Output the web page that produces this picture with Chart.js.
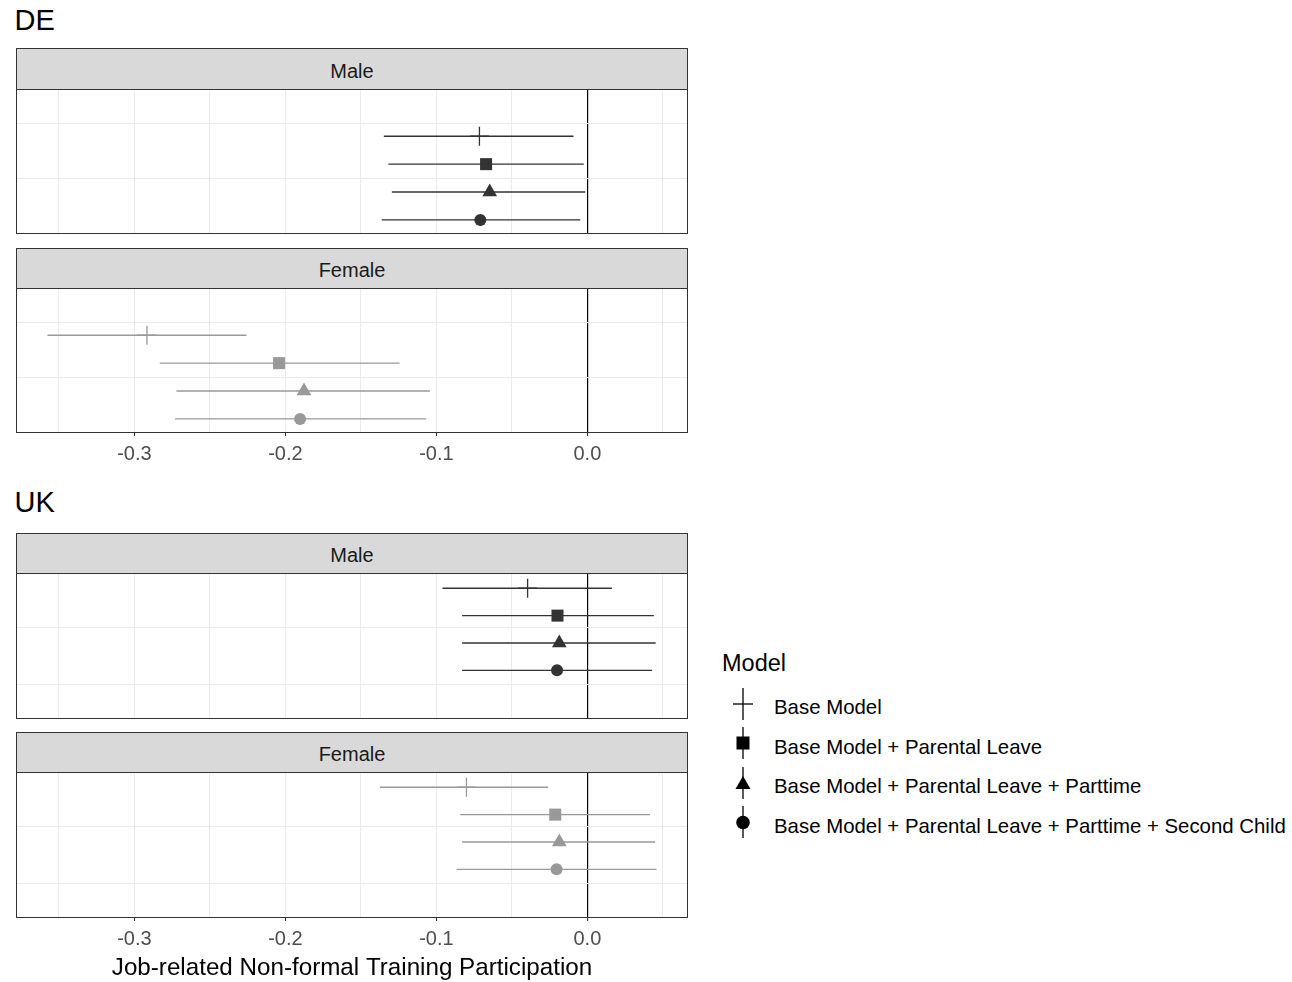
<!DOCTYPE html>
<html>
<head>
<meta charset="utf-8">
<script src="https://cdn.jsdelivr.net/npm/chart.js@4.4.0/dist/chart.umd.min.js"></script>
<style>
html,body{margin:0;padding:0;background:#ffffff;}
body{width:1292px;height:982px;position:relative;overflow:hidden;font-family:"Liberation Sans",Arial,sans-serif;}
.abs{position:absolute;white-space:nowrap;}
.ctitle{font-size:29px;line-height:29px;color:#000;}
.strip{position:absolute;left:16px;width:672px;box-sizing:border-box;background:#D9D9D9;border:1px solid #333333;display:flex;align-items:center;justify-content:center;font-size:20px;line-height:20px;color:#1A1A1A;padding-top:3px;}
.legtext{font-size:20.4px;line-height:20px;color:#000;}
</style>
</head>
<body>
<script>
// ---------- data ----------
const models = [
  'Base Model',
  'Base Model + Parental Leave',
  'Base Model + Parental Leave + Parttime',
  'Base Model + Parental Leave + Parttime + Second Child'
];
const countries = ['DE', 'UK'];
const sexes = ['Male', 'Female'];

const deMaleEst = [-0.0715, -0.0671, -0.0647, -0.0709];
const deMaleLo  = [-0.1348, -0.1318, -0.1295, -0.1362];
const deMaleHi  = [-0.0092, -0.0024, -0.0015, -0.0047];

const deFemaleEst = [-0.2917, -0.2042, -0.1877, -0.1903];
const deFemaleLo  = [-0.3576, -0.2832, -0.2722, -0.2731];
const deFemaleHi  = [-0.2258, -0.1244, -0.1043, -0.1067];

const ukMaleEst = [-0.0396, -0.0198, -0.0186, -0.0201];
const ukMaleLo  = [-0.0960, -0.0830, -0.0830, -0.0830];
const ukMaleHi  = [0.0162, 0.0440, 0.0452, 0.0429];

const ukFemaleEst = [-0.0801, -0.0213, -0.0186, -0.0204];
const ukFemaleLo  = [-0.1374, -0.0842, -0.0830, -0.0866];
const ukFemaleHi  = [-0.0260, 0.0414, 0.0449, 0.0458];

const xTickValues = [-0.3, -0.2, -0.1, 0];
const xTickLabels = ['-0.3', '-0.2', '-0.1', '0.0'];
const xMinorValues = [-0.35, -0.25, -0.15, -0.05, 0.05];
const xAxisTitle = 'Job-related Non-formal Training Participation';
const legendTitle = 'Model';

// ---------- styling / layout ----------
const FONT = '"Liberation Sans", Arial, sans-serif';
const sexColor = { Male: '#333333', Female: '#999999' };
const pointStyles = ['cross', 'rect', 'triangle', 'circle'];
const pointRadii = [9.5, 8.5, 8.5, 6];
const pointBorders = [1.3, 0, 0, 0];

// x range with ggplot-like 5% expansion
const allX = [].concat(deMaleLo, deMaleHi, deFemaleLo, deFemaleHi, ukMaleLo, ukMaleHi, ukFemaleLo, ukFemaleHi);
const xLo = Math.min(...allX), xHi = Math.max(...allX);
const xMin = xLo - 0.05 * (xHi - xLo), xMax = xHi + 0.05 * (xHi - xLo);

const yLayout = {
  DE: { min: -0.66, max: 4.47, grid: [0.53, 2.5] },
  UK: { min: 0.48, max: 5.74, grid: [2.44, 4.51] }
};

const panels = [
  { country: 'DE', sex: 'Male',   est: deMaleEst,   lo: deMaleLo,   hi: deMaleHi,   stripTop: 48,  top: 89,  bottom: 233, ticks: false, title: false },
  { country: 'DE', sex: 'Female', est: deFemaleEst, lo: deFemaleLo, hi: deFemaleHi, stripTop: 248, top: 288, bottom: 432, ticks: true,  title: false },
  { country: 'UK', sex: 'Male',   est: ukMaleEst,   lo: ukMaleLo,   hi: ukMaleHi,   stripTop: 533, top: 573, bottom: 718, ticks: false, title: false },
  { country: 'UK', sex: 'Female', est: ukFemaleEst, lo: ukFemaleLo, hi: ukFemaleHi, stripTop: 732, top: 772, bottom: 917, ticks: true,  title: true }
];

const panelBorder = {
  id: 'panelBorder',
  afterDraw(chart) {
    const a = chart.chartArea, c = chart.ctx;
    c.save();
    c.strokeStyle = '#333333';
    c.lineWidth = 1;
    c.strokeRect(Math.round(a.left) - 0.5, Math.round(a.top) - 0.5, Math.round(a.right - a.left) + 1, Math.round(a.bottom - a.top) + 1);
    c.restore();
  }
};

// country titles
const titleTops = { DE: 5.5, UK: 487.9 };
countries.forEach(cn => {
  const d = document.createElement('div');
  d.className = 'abs ctitle';
  d.style.left = '14.5px';
  d.style.top = titleTops[cn] + 'px';
  d.textContent = cn;
  document.body.appendChild(d);
});

const TICK_SIZE = 20, TICK_LH = 1.0, TICK_PAD = 8, TICK_LEN = 4;
const TITLE_SIZE = 24.2, TITLE_LH = 0.9;

panels.forEach(p => {
  // strip
  const s = document.createElement('div');
  s.className = 'strip';
  s.style.top = p.stripTop + 'px';
  s.style.height = (p.top - p.stripTop + 1) + 'px';
  s.textContent = p.sex;
  document.body.appendChild(s);

  const chartH = p.bottom - p.top - 1;
  let axisH = 0;
  if (p.ticks) axisH += TICK_LEN + TICK_SIZE * TICK_LH + 2 * TICK_PAD;
  if (p.title) axisH += TITLE_SIZE * TITLE_LH;
  const H = Math.ceil(10 + chartH + axisH + 4);
  const pb = H - 10 - chartH - axisH;

  const wrap = document.createElement('div');
  wrap.className = 'abs';
  wrap.style.left = '0px';
  wrap.style.top = (p.top - 9) + 'px';
  wrap.style.width = '700px';
  wrap.style.height = H + 'px';
  const cv = document.createElement('canvas');
  cv.width = 700; cv.height = H;
  cv.style.width = '700px'; cv.style.height = H + 'px';
  wrap.appendChild(cv);
  document.body.appendChild(wrap);

  const color = sexColor[p.sex];
  const yl = yLayout[p.country];
  const datasets = [];
  models.forEach((m, i) => {
    datasets.push({
      label: m + ' CI',
      data: [{ x: p.lo[i], y: i + 1 }, { x: p.hi[i], y: i + 1 }],
      showLine: true,
      borderColor: color,
      borderWidth: 1.3,
      pointRadius: 0,
      pointHoverRadius: 0
    });
  });
  datasets.push({
    label: 'estimates',
    data: p.est.map((v, i) => ({ x: v, y: i + 1 })),
    showLine: false,
    pointStyle: pointStyles,
    pointRadius: pointRadii,
    pointHoverRadius: pointRadii,
    pointBackgroundColor: color,
    pointBorderColor: color,
    pointBorderWidth: pointBorders
  });

  new Chart(cv, {
    type: 'scatter',
    data: { datasets },
    plugins: [panelBorder],
    options: {
      responsive: false,
      animation: false,
      events: [],
      layout: { autoPadding: false, padding: { left: 17, right: 13, top: 10, bottom: pb } },
      plugins: { legend: { display: false }, tooltip: { enabled: false } },
      scales: {
        x: {
          type: 'linear',
          min: xMin, max: xMax,
          afterBuildTicks: sc => { sc.ticks = xMinorValues.concat(xTickValues).sort((a, b) => a - b).map(v => ({ value: v })); },
          grid: {
            display: true,
            drawTicks: p.ticks,
            tickLength: TICK_LEN,
            color: ctx => (ctx.tick && ctx.tick.value === 0) ? '#000000' : '#EBEBEB',
            lineWidth: ctx => (ctx.tick && ctx.tick.value === 0) ? 1.2 : 1,
            tickColor: ctx => (ctx.tick && xTickValues.includes(ctx.tick.value)) ? '#333333' : 'rgba(0,0,0,0)',
            tickWidth: 1.1
          },
          border: { display: false },
          ticks: {
            display: p.ticks,
            autoSkip: false,
            maxRotation: 0, minRotation: 0,
            padding: TICK_PAD,
            color: '#4D4D4D',
            font: { family: FONT, size: TICK_SIZE, lineHeight: TICK_LH },
            callback: v => { const k = xTickValues.indexOf(v); return k >= 0 ? xTickLabels[k] : ''; }
          },
          title: {
            display: p.title,
            text: xAxisTitle,
            color: '#000000',
            font: { family: FONT, size: TITLE_SIZE, lineHeight: TITLE_LH },
            padding: 0
          }
        },
        y: {
          type: 'linear',
          reverse: true,
          min: yl.min, max: yl.max,
          afterBuildTicks: sc => { sc.ticks = yl.grid.map(v => ({ value: v })); },
          grid: { color: '#EBEBEB', lineWidth: 1, drawTicks: false },
          border: { display: false },
          ticks: { display: false }
        }
      }
    }
  });
});

// legend
const lt = document.createElement('div');
lt.className = 'abs';
lt.style.left = '722px';
lt.style.top = '651.7px';
lt.style.fontSize = '23.5px';
lt.style.lineHeight = '23px';
lt.textContent = legendTitle;
document.body.appendChild(lt);

const symbolSvg = [
  '<line x1="5" y1="18" x2="25" y2="18" stroke="#000" stroke-width="1.3"/>',
  '<rect x="8.5" y="11.5" width="13" height="13" fill="#000"/>',
  '<polygon points="15,11 22.5,24 7.5,24" fill="#000"/>',
  '<circle cx="15" cy="18.5" r="6.8" fill="#000"/>'
];
models.forEach((m, i) => {
  const c = 703.5 + 39.5 * i;
  const sv = document.createElement('div');
  sv.className = 'abs';
  sv.style.left = '728px';
  sv.style.top = (c - 18) + 'px';
  sv.innerHTML = '<svg width="30" height="36" xmlns="http://www.w3.org/2000/svg"><line x1="15" y1="2" x2="15" y2="34" stroke="#000" stroke-width="1.3"/>' + symbolSvg[i] + '</svg>';
  document.body.appendChild(sv);
  const t = document.createElement('div');
  t.className = 'abs legtext';
  t.style.left = '774px';
  t.style.top = (c + 3.5 - 9.8) + 'px';
  t.textContent = m;
  document.body.appendChild(t);
});
</script>
</body>
</html>
